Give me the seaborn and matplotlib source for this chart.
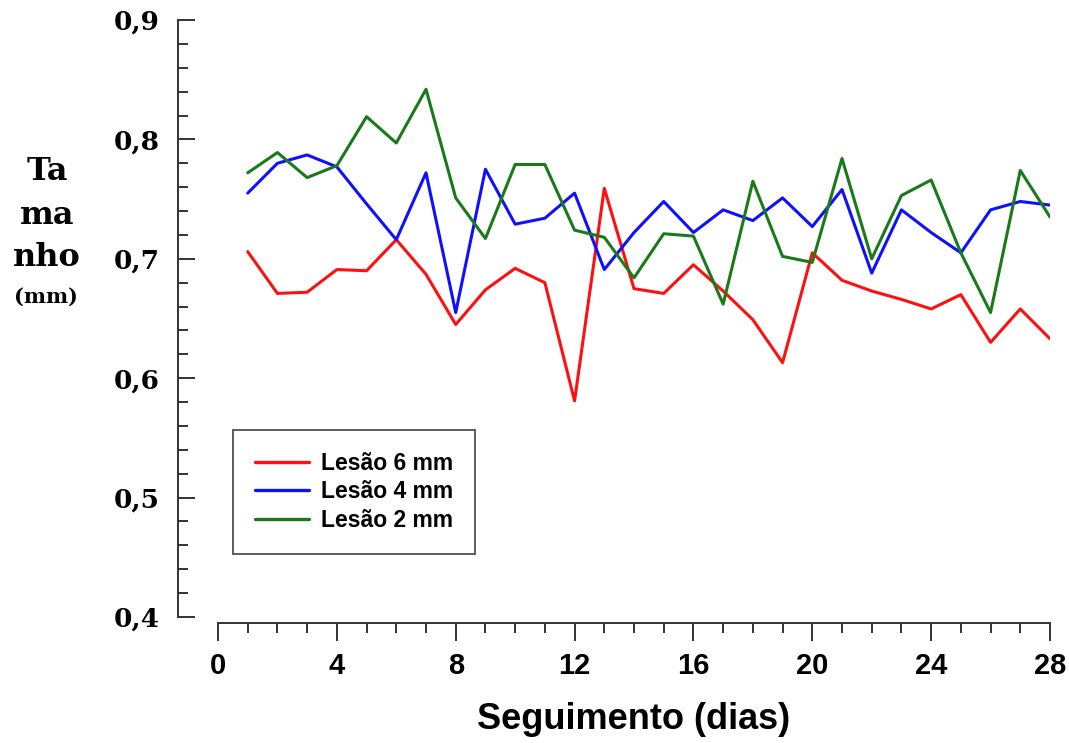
import numpy as np
import pandas as pd
import matplotlib
matplotlib.use("Agg")
import matplotlib.pyplot as plt
from matplotlib.ticker import MultipleLocator, FuncFormatter
import seaborn as sns

days = list(range(1, 29))
lesao_6mm = [0.706, 0.671, 0.672, 0.691, 0.690, 0.716, 0.687, 0.645, 0.674, 0.692,
             0.680, 0.581, 0.759, 0.675, 0.671, 0.695, 0.673, 0.649, 0.613, 0.705,
             0.682, 0.673, 0.666, 0.658, 0.670, 0.630, 0.658, 0.633]
lesao_4mm = [0.755, 0.780, 0.787, 0.777, 0.746, 0.716, 0.772, 0.655, 0.775, 0.729,
             0.734, 0.755, 0.691, 0.722, 0.748, 0.722, 0.741, 0.732, 0.751, 0.727,
             0.758, 0.688, 0.741, 0.722, 0.705, 0.741, 0.748, 0.745]
lesao_2mm = [0.772, 0.789, 0.768, 0.778, 0.819, 0.797, 0.842, 0.751, 0.717, 0.779,
             0.779, 0.724, 0.718, 0.684, 0.721, 0.719, 0.662, 0.765, 0.702, 0.697,
             0.784, 0.700, 0.753, 0.766, 0.705, 0.655, 0.774, 0.735]
series_names = ["Lesão 6 mm", "Lesão 4 mm", "Lesão 2 mm"]
colors = ["#ff1010", "#1010ff", "#1a7a1a"]

df = pd.concat([
    pd.DataFrame({"dia": days, "tamanho": vals, "serie": name})
    for name, vals in zip(series_names, [lesao_6mm, lesao_4mm, lesao_2mm])
], ignore_index=True)

sns.set_theme(style="white")
plt.rcParams["font.family"] = ["DejaVu Sans"]
plt.rcParams["text.color"] = "black"
plt.rcParams["xtick.color"] = "black"
plt.rcParams["ytick.color"] = "black"
plt.rcParams["axes.labelcolor"] = "black"

W, H = 1069, 743
fig = plt.figure(figsize=(W / 100, H / 100), dpi=100)
ax = fig.add_axes([218 / W, 1 - 617 / H, 832 / W, 597 / H])

sns.lineplot(data=df, x="dia", y="tamanho", hue="serie", hue_order=series_names,
             palette=colors, linewidth=2.2, ax=ax, legend=True)

ax.set_xlim(0, 28)
ax.set_ylim(0.4, 0.9)

for s in ["top", "right"]:
    ax.spines[s].set_visible(False)
for s in ["left", "bottom"]:
    ax.spines[s].set_color("#333333")
    ax.spines[s].set_linewidth(1.4)
ax.spines["left"].set_position(("outward", 29))
ax.spines["bottom"].set_position(("outward", 4))

ax.xaxis.set_major_locator(MultipleLocator(4))
ax.xaxis.set_minor_locator(MultipleLocator(1))
ax.yaxis.set_major_locator(MultipleLocator(0.1))
ax.yaxis.set_minor_locator(MultipleLocator(0.02))

ax.tick_params(axis="y", which="major", direction="in", length=12, width=1.4,
               color="#333333", labelcolor="black", pad=13, left=True)
ax.tick_params(axis="y", which="minor", direction="in", length=7, width=1.4,
               color="#333333", left=True)
ax.tick_params(axis="x", which="major", direction="out", length=13, width=1.4,
               color="#333333", labelcolor="black", pad=8, bottom=True)
ax.tick_params(axis="x", which="minor", direction="out", length=7, width=1.4,
               color="#333333", bottom=True)

ax.yaxis.set_major_formatter(FuncFormatter(lambda v, p: f"{v:.1f}".replace(".", ",")))
for lab in ax.get_yticklabels():
    lab.set_fontfamily("DejaVu Serif")
    lab.set_fontweight("bold")
    lab.set_fontsize(19)
for lab in ax.get_xticklabels():
    lab.set_fontfamily(["Liberation Sans Narrow", "Liberation Sans"])
    lab.set_fontweight("bold")
    lab.set_fontsize(21)

ax.set_xlabel("Seguimento (dias)", fontsize=26, fontweight="bold",
              fontfamily="Liberation Sans", color="black")
ax.xaxis.set_label_coords(0.5, -0.143)
ax.set_ylabel("Ta\nma\nnho", rotation=0, fontsize=23, fontweight="bold",
              fontfamily="DejaVu Serif", linespacing=1.5, ha="center", va="center",
              color="black")
ax.yaxis.set_label_coords((47 - 218) / 832, (617 - 215) / 597)
fig.text(46 / W, 1 - 297 / H, "(mm)", fontsize=15, fontweight="bold",
         fontfamily="DejaVu Serif", ha="center", va="center", color="black")

handles, labels = ax.get_legend_handles_labels()
leg = ax.legend(handles, labels, loc="upper left", bbox_to_anchor=(0.018, 0.313),
                borderaxespad=0, frameon=True, fancybox=False,
                prop={"family": "Liberation Sans", "weight": "bold", "size": 16.5},
                handlelength=2.35, handletextpad=0.55, labelspacing=0.24,
                borderpad=0.95)
leg.get_frame().set_edgecolor("#333333")
leg.get_frame().set_linewidth(1.4)
for t in leg.get_texts():
    t.set_color("black")
for l in leg.get_lines():
    l.set_linewidth(2.4)

fig.savefig("out.png", dpi=100)
